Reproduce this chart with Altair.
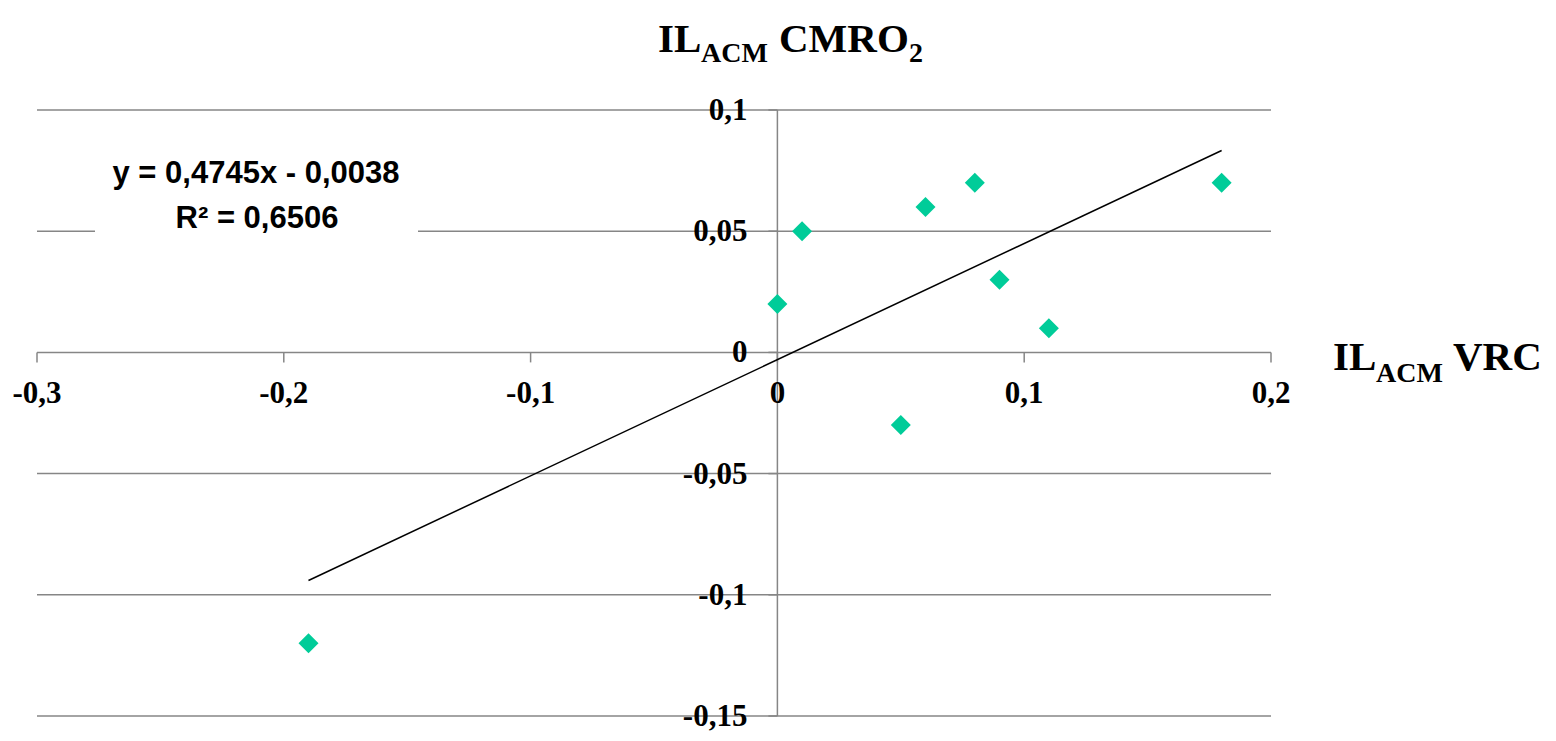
import altair as alt
import pandas as pd

# ---- data ----
vrc = [0.0, 0.01, 0.05, 0.06, 0.08, 0.09, 0.11, 0.18, -0.19]
cmro2 = [0.02, 0.05, -0.03, 0.06, 0.07, 0.03, 0.01, 0.07, -0.12]
trend_extent = [-0.19, 0.18]

x_ticks = [-0.3, -0.2, -0.1, 0.0, 0.1, 0.2]
x_labels = ["-0,3", "-0,2", "-0,1", "0", "0,1", "0,2"]
y_ticks = [-0.15, -0.1, -0.05, 0.0, 0.05, 0.1]
y_labels = ["-0,15", "-0,1", "-0,05", "0", "0,05", "0,1"]

equation = "y = 0,4745x - 0,0038"
r_squared = "R² = 0,6506"

W, H = 1234, 606
GRID = "#868686"
SERIF = "Liberation Serif"
SANS = "Liberation Sans"

pts = pd.DataFrame({"vrc": vrc, "cmro2": cmro2})
xt = pd.DataFrame({"v": x_ticks, "label": x_labels, "z": [0.0] * len(x_ticks)})
yt = pd.DataFrame({"v": y_ticks, "label": y_labels, "z": [0.0] * len(y_ticks)})
one = pd.DataFrame({"v": [0.0]})

xs = alt.Scale(domain=[-0.3, 0.2], nice=False, zero=False)
ys = alt.Scale(domain=[-0.15, 0.1], nice=False, zero=False)

grid = alt.Chart(yt).mark_rule(color=GRID, strokeWidth=1.5).encode(
    y=alt.Y("v:Q", scale=ys, axis=None), x=alt.value(0), x2=alt.value(W)
)

eq_box = alt.Chart(one).mark_rect(color="white").encode(
    x=alt.value(58), x2=alt.value(381), y=alt.value(35), y2=alt.value(135)
)

y_axis_line = alt.Chart(one).mark_rule(color=GRID, strokeWidth=1.5).encode(
    x=alt.X("v:Q", scale=xs, axis=None), y=alt.value(0), y2=alt.value(H)
)

x_tickmarks = alt.Chart(xt).mark_rule(color=GRID, strokeWidth=1.5, y2Offset=10).encode(
    x=alt.X("v:Q", scale=xs, axis=None),
    y=alt.Y("z:Q", scale=ys, axis=None), y2="z:Q",
)

y_tickmarks = alt.Chart(yt).mark_rule(color=GRID, strokeWidth=1.5, x2Offset=-9).encode(
    y=alt.Y("v:Q", scale=ys, axis=None),
    x=alt.X("z:Q", scale=xs, axis=None), x2="z:Q",
)

x_text = alt.Chart(xt).mark_text(
    font=SERIF, fontWeight="bold", fontSize=31, dy=42, baseline="middle", align="center", color="black"
).encode(
    x=alt.X("v:Q", scale=xs, axis=None),
    y=alt.Y("z:Q", scale=ys, axis=None),
    text="label:N",
)

y_text = alt.Chart(yt).mark_text(
    font=SERIF, fontWeight="bold", fontSize=31, dx=-30, dy=1, baseline="middle", align="right", color="black"
).encode(
    y=alt.Y("v:Q", scale=ys, axis=None),
    x=alt.X("z:Q", scale=xs, axis=None),
    text="label:N",
)

trend = alt.Chart(pts).transform_regression(
    "vrc", "cmro2", extent=trend_extent
).mark_line(color="black", strokeWidth=1.5).encode(
    x=alt.X("vrc:Q", scale=xs, axis=None), y=alt.Y("cmro2:Q", scale=ys, axis=None)
)

points = alt.Chart(pts).mark_point(
    shape="diamond", filled=True, size=400, color="#00CC99", opacity=1
).encode(
    x=alt.X("vrc:Q", scale=xs, axis=None), y=alt.Y("cmro2:Q", scale=ys, axis=None)
)

def txt(s, x, y, size, font=SERIF, align="left"):
    return alt.Chart(one).mark_text(
        text=s, font=font, fontWeight="bold", fontSize=size, align=align,
        baseline="alphabetic", color="black"
    ).encode(x=alt.value(x), y=alt.value(y))

eq1 = txt(equation, 219, 73, 31, font=SANS, align="center")
eq2 = txt(r_squared, 220, 118, 31, font=SANS, align="center")

BIG, SUB = 41, 28
title_parts = [
    txt("IL", 621, -58, BIG),
    txt("ACM", 664, -48, SUB),
    txt("CMRO", 742, -58, BIG),
    txt("2", 872, -48, SUB),
]
xtitle_parts = [
    txt("IL", 1296, 260, BIG),
    txt("ACM", 1339, 272, SUB),
    txt("VRC", 1416, 260, BIG),
]

chart = alt.layer(
    grid, eq_box, y_axis_line, x_tickmarks, y_tickmarks, trend, points,
    x_text, y_text, eq1, eq2, *title_parts, *xtitle_parts
).properties(
    width=W, height=H,
    autosize=alt.AutoSizeParams(type="none"),
    padding={"left": 29, "top": 102, "right": 276, "bottom": 20},
).configure_view(stroke=None)

chart.save("out.html", embed_options={"renderer": "svg", "actions": False})
